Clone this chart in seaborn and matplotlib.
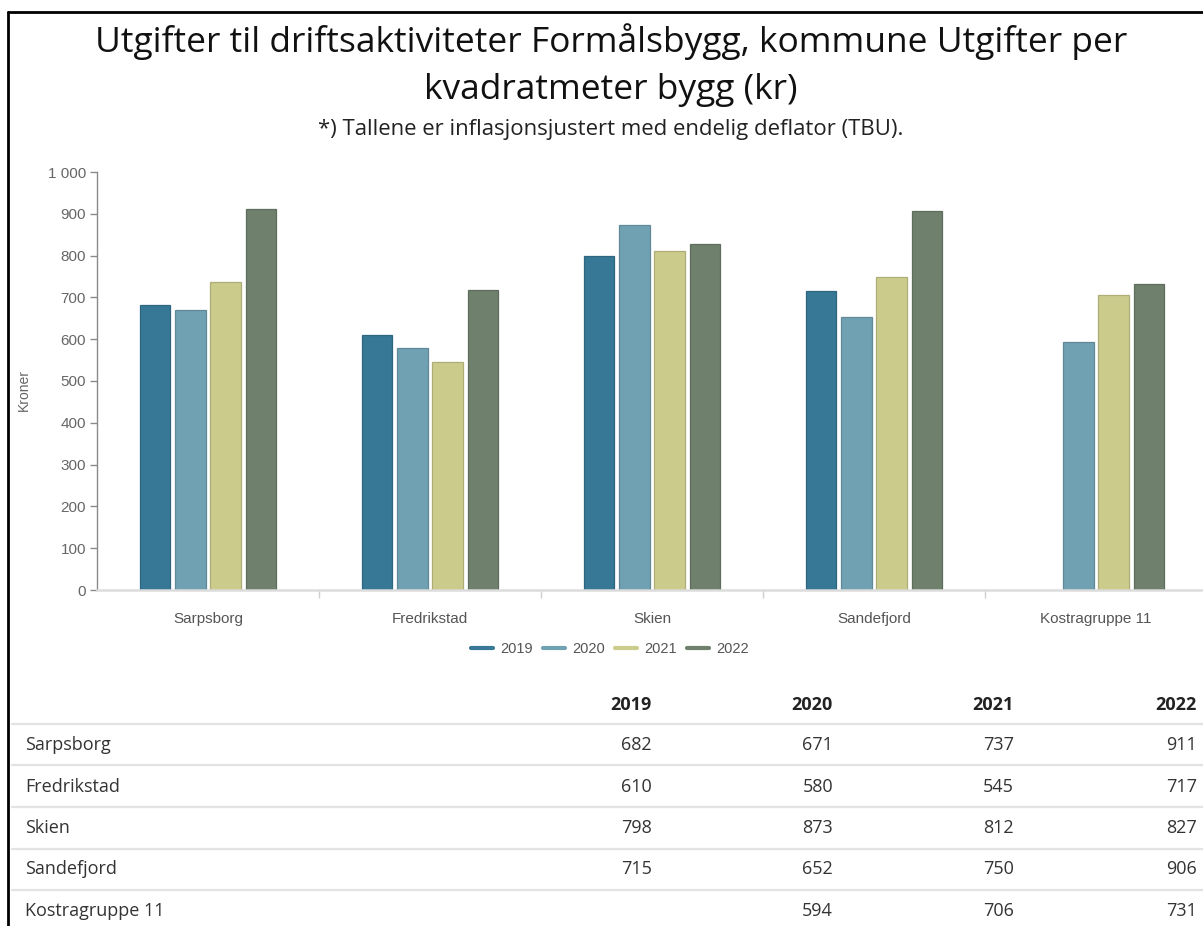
import numpy as np
import pandas as pd
import matplotlib
matplotlib.use("Agg")
import matplotlib.pyplot as plt
from matplotlib.lines import Line2D
from matplotlib.colors import to_rgb
import seaborn as sns

# ---- data ----
regions = ["Sarpsborg", "Fredrikstad", "Skien", "Sandefjord", "Kostragruppe 11"]
years = ["2019", "2020", "2021", "2022"]
v2019 = [682, 610, 798, 715, np.nan]
v2020 = [671, 580, 873, 652, 594]
v2021 = [737, 545, 812, 750, 706]
v2022 = [911, 717, 827, 906, 731]
colors = ["#367896", "#70a1b2", "#cbcc8c", "#6f806d"]

title = "Utgifter til driftsaktiviteter Formålsbygg, kommune Utgifter per\nkvadratmeter bygg (kr)"
subtitle = "*) Tallene er inflasjonsjustert med endelig deflator (TBU)."

series = {"2019": v2019, "2020": v2020, "2021": v2021, "2022": v2022}
df = pd.DataFrame(
    [(r, y, series[y][i]) for y in years for i, r in enumerate(regions)],
    columns=["region", "year", "value"],
)

sns.set_theme(style="white")
plt.rcParams["font.family"] = ["Liberation Sans", "DejaVu Sans"]

W, H = 1203, 926
fig = plt.figure(figsize=(W / 100, H / 100), dpi=100)
fig.patch.set_facecolor("white")


def fx(px):
    return px / W


def fy(py):
    return 1 - py / H


ax = fig.add_axes([fx(97), fy(590), fx(1110), (590 - 172) / H])
sns.barplot(
    data=df, x="region", y="value", hue="year", order=regions, hue_order=years,
    palette=colors, width=0.632, gap=0.14, ax=ax, legend=False, saturation=1,
    errorbar=None,
)
for patch in ax.patches:
    fc = np.array(to_rgb(patch.get_facecolor()))
    patch.set_edgecolor(tuple(fc * 0.85))
    patch.set_linewidth(0.9)

ax.set_xlim(-0.5, 4.5)
ax.set_ylim(0, 1000)
ax.set_yticks(np.arange(0, 1001, 100))
ax.set_yticklabels([f"{v:,}".replace(",", " ") for v in range(0, 1001, 100)])
ax.set_xlabel("")
ax.set_ylabel("Kroner", fontsize=10, color="#666666")
ax.yaxis.set_label_coords((31 - 97) / 1110, 0.478)

for s in ["top", "right"]:
    ax.spines[s].set_visible(False)
ax.spines["left"].set_color("#8a8a8a")
ax.spines["left"].set_linewidth(1.0)
ax.spines["bottom"].set_color("#dcdcdc")
ax.spines["bottom"].set_linewidth(1.8)

ax.tick_params(axis="y", which="major", left=True, length=5, width=1, color="#8a8a8a",
               labelsize=11, labelcolor="#666666", pad=3)
ax.tick_params(axis="x", which="major", bottom=False, labelsize=11, labelcolor="#555555", pad=10)
ax.set_xticks(np.arange(0.5, 4.5, 1), minor=True)
ax.tick_params(axis="x", which="minor", bottom=True, length=6, width=1, color="#cfcfcf")

# titles
tfont = ["Open Sans", "DejaVu Sans"]
fig.text(fx(611), fy(42), title.split("\n")[0], ha="center", va="center",
         fontsize=25.5, family=tfont, color="#111111")
fig.text(fx(611), fy(90), title.split("\n")[1], ha="center", va="center",
         fontsize=25.5, family=tfont, color="#111111")
fig.text(fx(611), fy(129), subtitle, ha="center", va="center",
         fontsize=15.9, family=tfont, color="#222222")

# legend
handles = [Line2D([0], [0], color=c, lw=3) for c in colors]
fig.legend(handles, years, loc="center", bbox_to_anchor=(fx(610), fy(649)), ncol=4,
           frameon=False, fontsize=10.5, labelcolor="#555555", handlelength=1.5,
           handletextpad=0.5, columnspacing=0.7)

# data table
col_x = [652, 833, 1014, 1197]
header_y = 705
row_y = [745, 787, 828, 869, 911]
line_y = [724, 765, 807, 849, 890]
for x, y in zip(col_x, years):
    fig.text(fx(x), fy(header_y), y, ha="right", va="center", fontsize=13,
             fontweight="bold", family=tfont, color="#222222")
for ly in line_y:
    fig.add_artist(Line2D([fx(12), fx(1203)], [fy(ly), fy(ly)], color="#e3e3e3", lw=1.6))
for i, r in enumerate(regions):
    fig.text(fx(25), fy(row_y[i]), r, ha="left", va="center", fontsize=13,
             family=tfont, color="#333333")
    for x, y in zip(col_x, years):
        v = series[y][i]
        if not np.isnan(v):
            fig.text(fx(x), fy(row_y[i]), f"{int(v)}", ha="right", va="center",
                     fontsize=13, family=tfont, color="#333333")

# outer frame (left and top edges)
fig.add_artist(Line2D([fx(8), fx(8)], [fy(12), 0], color="black", lw=2))
fig.add_artist(Line2D([fx(8), 1], [fy(12), fy(12)], color="black", lw=2))

fig.savefig("out.png", dpi=100)
